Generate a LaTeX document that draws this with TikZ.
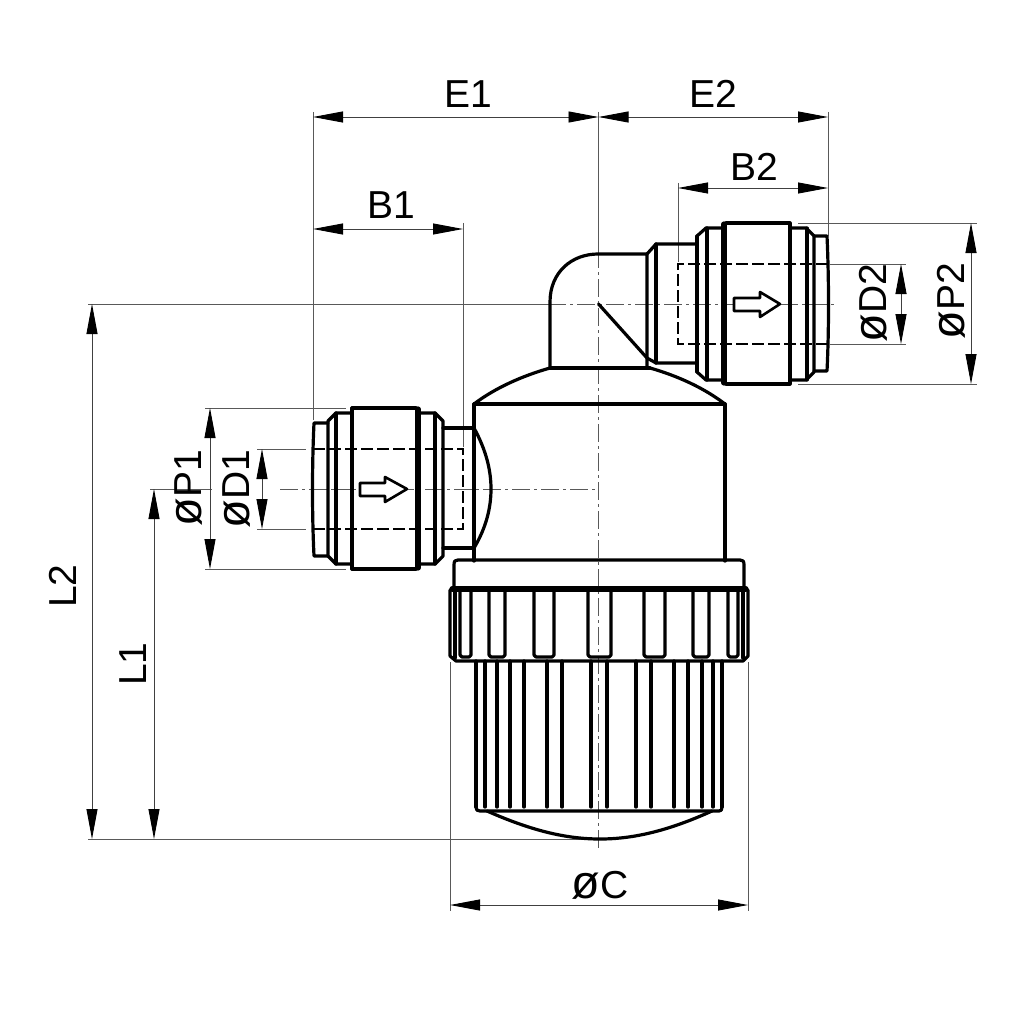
\documentclass[tikz,border=0pt]{standalone}
\usepackage{fontspec}
\usepackage{graphicx}
\setmainfont{Liberation Sans}
\usetikzlibrary{arrows.meta}
\newcommand{\diam}{\scalebox{1.2}{ø}}
\tikzset{
  part/.style={line width=3.2pt,line join=round,line cap=round},
  heavy/.style={line width=5.2pt,line cap=round},
  flowarrow/.style={line width=2.6pt,line join=round,fill=white},
  thinline/.style={line width=0.8pt,black!65},
  centerline/.style={line width=0.9pt,black!65,dash pattern=on 18pt off 4pt on 3pt off 4pt},
  hiddenline/.style={line width=2.2pt,dash pattern=on 12pt off 4pt},
  dimline/.style={line width=0.9pt,black!75,{Triangle[length=30pt,width=11pt,black]}-{Triangle[length=30pt,width=11pt,black]}},
  dimtext/.style={font=\fontsize{39pt}{39pt}\selectfont,inner sep=0pt},
}
\begin{document}
\begin{tikzpicture}[x=1pt,y=-1pt]
\useasboundingbox (0,0) rectangle (1024,1024);
\fill[white] (0,0) rectangle (1024,1024);
% extension lines
\draw[thinline] (313,112) -- (313,420);
\draw[thinline] (463,223) -- (463,447);
\draw[thinline] (828,112) -- (828,236);
\draw[thinline] (678,183) -- (678,262);
\draw[thinline] (598.5,112) -- (598.5,250);
\draw[thinline] (798,223) -- (977,223);
\draw[thinline] (798,384) -- (977,384);
\draw[thinline] (830,264) -- (906,264);
\draw[thinline] (830,344) -- (906,344);
\draw[thinline] (205,408) -- (346,408);
\draw[thinline] (205,569) -- (346,569);
\draw[thinline] (257,449) -- (306,449);
\draw[thinline] (257,529) -- (306,529);
\draw[thinline] (88,304) -- (548,304);
\draw[thinline] (150,489) -- (212,489);
\draw[thinline] (88,839) -- (598,839);
\draw[thinline] (450,662) -- (450,911);
\draw[thinline] (748,662) -- (748,911);
% center lines
\draw[centerline] (598.5,250) -- (598.5,848);
\draw[centerline] (548,304) -- (837,304);
\draw[centerline] (280,489) -- (598,489);
% dimensions
\draw[dimline] (313,117) -- (598.5,117);
\draw[dimline] (598.5,117) -- (828,117);
\draw[dimline] (313,229) -- (463,229);
\draw[dimline] (678,188) -- (828,188);
\draw[dimline] (971,223) -- (971,384);
\draw[dimline] (901,264) -- (901,344);
\draw[dimline] (210,408) -- (210,569);
\draw[dimline] (262,449) -- (262,529);
\draw[dimline] (92,304) -- (92,839);
\draw[dimline] (154,489) -- (154,839);
\draw[dimline] (450,905) -- (748,905);
% right connector
\draw[hiddenline] (828,264) -- (678,264) -- (678,344) -- (828,344);
\draw[part] (550,368) -- (550,302) .. controls (550,272) and (572,254) .. (598,254) -- (647,254) -- (647,368);
\draw[part] (598.5,304) -- (647,358);
\draw[part] (647,254) -- (656,244) -- (697,244);
\draw[part] (647,358) -- (656,363) -- (697,363);
\draw[part] (656,244) -- (656,363);
\draw[part] (697,236) -- (697,372);
\draw[part] (697,236) -- (706,228) -- (724,228);
\draw[part] (697,372) -- (706,380) -- (724,380);
\draw[part] (707,228) -- (707,380);
\draw[part] (726,223) -- (790,223) -- (790,384) -- (726,384);
\draw[heavy] (724,224) -- (724,383);
\draw[part] (790,228) -- (806,228) -- (814,236) -- (814,372) -- (806,380) -- (790,380);
\draw[part] (807,228) -- (807,380);
\draw[part] (814,236) -- (827,236) .. controls (829,280) and (829,330) .. (827,371) -- (814,371);
\draw[flowarrow] (734,298) -- (760,298) -- (760,292) -- (780,304) -- (760,317) -- (760,311) -- (734,311) -- cycle;
% left connector
\draw[hiddenline] (313,449) -- (463,449) -- (463,529) -- (313,529);
\draw[part] (474,428) -- (443,428);
\draw[part] (474,548) -- (443,548);
\draw[part] (474,428) .. controls (486,450) and (491,470) .. (491,489) .. controls (491,508) and (486,528) .. (474,548);
\draw[part] (352,408) -- (416,408);
\draw[part] (352,569) -- (416,569);
\draw[part] (352,408) -- (352,569);
\draw[heavy] (418,409) -- (418,568);
\draw[part] (420,413) -- (435,413) -- (443,421) -- (443,556) -- (435,564) -- (420,564);
\draw[part] (435,413) -- (435,564);
\draw[part] (352,413) -- (336,413) -- (328,421) -- (328,556) -- (336,564) -- (352,564);
\draw[part] (336,413) -- (336,564);
\draw[part] (328,423) -- (314,423) .. controls (312,465) and (312,515) .. (314,556) -- (328,556);
\draw[flowarrow] (360,483) -- (385,483) -- (385,477) -- (407,489) -- (385,502) -- (385,496) -- (360,496) -- cycle;
% body
\draw[part] (550,368) -- (650,368);
\draw[part] (550,368) .. controls (522,376) and (495,388) .. (474,404);
\draw[part] (650,368) .. controls (678,376) and (704,388) .. (725,404);
\draw[part] (474,404) -- (725,404);
\draw[part] (474,404) -- (474,561);
\draw[part] (725,404) -- (725,561);
% ring and nut
\draw[part] (454,589) -- (454,565) .. controls (454,561) and (455,560) .. (458,560) -- (740,560) .. controls (743,560) and (744,561) .. (744,565) -- (744,589);
\draw[heavy] (452,589) -- (746,589);
\draw[part] (450,590) -- (450,656) -- (456,661) -- (743,661) -- (748,656) -- (748,590);
\draw[part] (455,590) -- (455,658);
\draw[part] (743,590) -- (743,658);
\foreach \tl/\tr in {460/471,489/505,534/554,588/611,644/665,693/709,728/738}
  \draw[part] (\tl,590) -- (\tl,655) -- (\tl+2,657) -- (\tr-2,657) -- (\tr,655) -- (\tr,590);
% grip
\foreach \rx in {476,485,497,510,524,547,562,591,607,636,651,674,688,702,713,722}
  \draw[part] (\rx,661) -- (\rx,807);
\draw[part] (476,807) .. controls (476,810) and (477,811) .. (480,811) -- (719,811) .. controls (721,811) and (722,810) .. (722,807);
\draw[part] (487,811) .. controls (530,830) and (565,839) .. (600,839) .. controls (635,839) and (670,830) .. (712,811);
% labels
\node[dimtext] (labelEone) at (468,94) {E1};
\node[dimtext] (labelEtwo) at (713,94) {E2};
\node[dimtext] (labelBone) at (391,205) {B1};
\node[dimtext] (labelBtwo) at (754,167) {B2};
\node[dimtext,rotate=90] (labelPtwo) at (951,301) {\diam P2};
\node[dimtext,rotate=90] (labelDtwo) at (873,303) {\diam D2};
\node[dimtext,rotate=90] (labelPone) at (189,488) {\diam P1};
\node[dimtext,rotate=90] (labelDone) at (237,489) {\diam D1};
\node[dimtext,rotate=90] (labelLtwo) at (63,586) {L2};
\node[dimtext,rotate=90] (labelLone) at (133,664) {L1};
\node[dimtext] (labelC) at (600,885) {\diam C};
\end{tikzpicture}
\end{document}
